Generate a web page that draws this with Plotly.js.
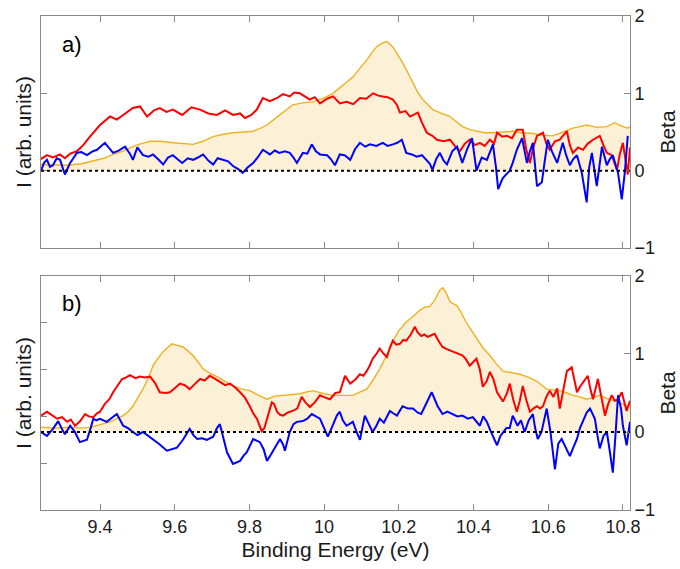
<!DOCTYPE html>
<html><head><meta charset="utf-8">
<script src="https://cdn.plot.ly/plotly-3.0.1.min.js"></script>
<style>html,body{margin:0;padding:0;background:#fff;}#chart{width:680px;height:569px;}</style>
</head><body><div id="chart"></div>
<script>
// Panel a) yellow (intensity), red and blue (beta) traces
const aYelX = [9.242,9.28,9.312,9.35,9.383,9.41,9.435,9.46,9.488,9.51,9.534,9.56,9.595,9.62,9.649,9.675,9.703,9.73,9.756,9.785,9.81,9.83,9.847,9.865,9.88,9.9,9.916,9.945,9.97,10.0,10.024,10.042,10.06,10.077,10.095,10.114,10.13,10.14,10.155,10.168,10.184,10.197,10.211,10.225,10.238,10.25,10.264,10.278,10.291,10.31,10.337,10.355,10.371,10.39,10.409,10.43,10.452,10.48,10.505,10.53,10.559,10.585,10.612,10.64,10.666,10.685,10.703,10.73,10.757,10.778,10.795,10.813,10.819];
const aYelY = [0.08,0.07,0.07,0.09,0.13,0.16,0.21,0.25,0.31,0.35,0.38,0.38,0.36,0.35,0.34,0.38,0.44,0.47,0.49,0.50,0.51,0.55,0.59,0.66,0.72,0.79,0.85,0.88,0.89,0.94,1.0,1.07,1.14,1.21,1.32,1.43,1.54,1.60,1.65,1.67,1.60,1.50,1.39,1.26,1.13,1.02,0.92,0.85,0.79,0.75,0.70,0.63,0.57,0.53,0.51,0.49,0.49,0.50,0.51,0.49,0.48,0.46,0.45,0.50,0.55,0.57,0.59,0.56,0.57,0.62,0.58,0.55,0.57];
const aRedX = [9.242,9.258,9.274,9.293,9.306,9.32,9.338,9.355,9.373,9.40,9.427,9.445,9.462,9.488,9.507,9.526,9.545,9.56,9.578,9.595,9.62,9.645,9.668,9.69,9.713,9.735,9.756,9.775,9.788,9.805,9.82,9.836,9.855,9.874,9.89,9.908,9.92,9.935,9.962,9.975,9.989,10.008,10.024,10.042,10.06,10.078,10.096,10.113,10.131,10.145,10.157,10.17,10.184,10.195,10.203,10.218,10.23,10.251,10.262,10.275,10.29,10.302,10.32,10.337,10.35,10.363,10.377,10.39,10.404,10.417,10.43,10.444,10.455,10.463,10.477,10.49,10.503,10.516,10.532,10.541,10.551,10.56,10.57,10.586,10.595,10.604,10.618,10.631,10.65,10.658,10.666,10.68,10.693,10.706,10.72,10.738,10.748,10.757,10.77,10.784,10.792,10.8,10.813,10.819];
const aRedY = [0.15,0.20,0.17,0.21,0.16,0.22,0.25,0.33,0.44,0.59,0.70,0.66,0.72,0.81,0.83,0.70,0.78,0.81,0.76,0.79,0.72,0.82,0.79,0.74,0.72,0.78,0.72,0.74,0.68,0.72,0.79,0.94,0.90,0.94,0.99,0.96,1.01,1.00,0.92,0.95,0.87,0.93,0.96,0.87,0.89,0.86,0.94,0.93,1.00,0.97,0.96,0.95,0.92,0.85,0.75,0.77,0.70,0.75,0.62,0.49,0.45,0.40,0.38,0.40,0.32,0.25,0.35,0.40,0.33,0.36,0.32,0.40,0.35,0.49,0.44,0.45,0.42,0.53,0.53,0.28,0.10,0.30,0.45,0.49,0.35,0.27,0.38,0.40,0.51,0.33,0.23,0.30,0.27,0.35,0.40,0.45,0.33,0.23,0.20,0.01,0.22,0.36,-0.05,0.30];
const aBluX = [9.242,9.25,9.258,9.266,9.274,9.284,9.293,9.306,9.32,9.338,9.35,9.365,9.38,9.392,9.413,9.425,9.435,9.45,9.467,9.48,9.488,9.50,9.515,9.53,9.542,9.555,9.569,9.582,9.595,9.607,9.62,9.635,9.649,9.662,9.676,9.69,9.703,9.715,9.73,9.743,9.756,9.77,9.782,9.795,9.81,9.822,9.836,9.845,9.855,9.868,9.88,9.895,9.908,9.918,9.927,9.943,9.955,9.967,9.978,9.989,10.008,10.018,10.029,10.042,10.055,10.07,10.083,10.096,10.11,10.123,10.14,10.157,10.17,10.184,10.196,10.208,10.22,10.235,10.248,10.262,10.275,10.283,10.29,10.30,10.31,10.32,10.329,10.343,10.356,10.37,10.383,10.396,10.408,10.422,10.436,10.446,10.452,10.46,10.466,10.478,10.488,10.497,10.505,10.516,10.53,10.543,10.551,10.559,10.57,10.583,10.59,10.599,10.61,10.624,10.639,10.648,10.658,10.667,10.677,10.69,10.703,10.71,10.717,10.73,10.744,10.757,10.765,10.773,10.787,10.797,10.805,10.813];
const aBluY = [0.00,0.10,0.14,0.05,0.07,0.16,0.14,-0.05,0.10,0.23,0.24,0.20,0.25,0.27,0.36,0.28,0.23,0.26,0.31,0.22,0.14,0.30,0.20,0.18,0.21,0.15,0.08,0.17,0.20,0.15,0.10,0.16,0.14,0.17,0.21,0.13,0.08,0.16,0.14,0.12,0.06,0.02,-0.03,0.04,0.10,0.17,0.27,0.24,0.21,0.26,0.23,0.25,0.23,0.17,0.10,0.23,0.22,0.34,0.25,0.21,0.20,0.15,0.07,0.21,0.20,0.14,0.28,0.36,0.31,0.34,0.32,0.36,0.32,0.34,0.36,0.40,0.23,0.21,0.18,0.20,0.14,0.09,0.01,0.15,0.23,0.13,0.08,0.25,0.31,0.10,0.28,0.42,0.00,0.17,0.14,0.25,0.34,0.05,-0.24,-0.10,-0.05,0.00,0.10,0.27,0.42,0.10,0.25,0.36,-0.20,-0.15,0.10,0.40,0.25,0.10,0.36,0.20,0.07,0.15,0.20,-0.03,-0.41,0.05,0.23,-0.20,0.31,0.07,0.15,0.20,-0.03,-0.37,-0.03,0.45];

// Panel b)
const bYelX = [9.242,9.28,9.312,9.35,9.373,9.40,9.427,9.445,9.462,9.475,9.488,9.50,9.515,9.53,9.542,9.556,9.569,9.58,9.593,9.607,9.622,9.635,9.649,9.662,9.676,9.695,9.713,9.735,9.756,9.78,9.801,9.825,9.847,9.868,9.89,9.91,9.935,9.95,9.97,10.0,10.024,10.042,10.077,10.095,10.114,10.13,10.149,10.167,10.184,10.2,10.22,10.238,10.256,10.27,10.283,10.295,10.302,10.31,10.318,10.327,10.337,10.355,10.365,10.38,10.395,10.408,10.425,10.444,10.46,10.479,10.5,10.524,10.548,10.57,10.583,10.596,10.615,10.631,10.65,10.666,10.685,10.703,10.72,10.738,10.756,10.773,10.79,10.81,10.819];
const bYelY = [0.06,0.05,0.06,0.05,0.06,0.09,0.13,0.17,0.21,0.26,0.33,0.43,0.55,0.70,0.85,0.95,1.03,1.08,1.13,1.11,1.09,1.04,0.98,0.90,0.81,0.75,0.71,0.65,0.59,0.55,0.53,0.47,0.42,0.46,0.47,0.48,0.49,0.51,0.53,0.49,0.47,0.47,0.47,0.51,0.55,0.66,0.81,0.98,1.16,1.30,1.41,1.48,1.56,1.60,1.61,1.68,1.75,1.82,1.85,1.78,1.67,1.62,1.55,1.41,1.30,1.20,1.08,0.98,0.88,0.78,0.76,0.74,0.70,0.65,0.60,0.55,0.54,0.53,0.50,0.47,0.45,0.42,0.44,0.47,0.43,0.40,0.38,0.33,0.35];
const bRedX = [9.242,9.258,9.27,9.285,9.298,9.312,9.322,9.333,9.347,9.36,9.37,9.382,9.392,9.40,9.413,9.425,9.435,9.447,9.459,9.47,9.48,9.495,9.507,9.52,9.534,9.547,9.56,9.575,9.587,9.60,9.614,9.627,9.64,9.655,9.668,9.68,9.694,9.708,9.721,9.735,9.748,9.762,9.775,9.788,9.801,9.81,9.82,9.833,9.84,9.847,9.86,9.866,9.874,9.882,9.89,9.903,9.916,9.928,9.94,9.95,9.962,9.975,9.989,10.003,10.016,10.03,10.042,10.056,10.07,10.083,10.096,10.105,10.114,10.122,10.13,10.14,10.149,10.158,10.168,10.176,10.184,10.193,10.203,10.212,10.22,10.232,10.243,10.25,10.26,10.268,10.277,10.287,10.296,10.305,10.317,10.33,10.344,10.357,10.371,10.38,10.39,10.4,10.408,10.417,10.425,10.435,10.444,10.453,10.463,10.471,10.479,10.49,10.497,10.506,10.516,10.524,10.532,10.542,10.551,10.56,10.57,10.578,10.586,10.595,10.604,10.614,10.624,10.631,10.64,10.65,10.663,10.67,10.677,10.685,10.693,10.706,10.713,10.72,10.733,10.742,10.752,10.76,10.77,10.778,10.787,10.797,10.805,10.81,10.819];
const bRedY = [0.21,0.26,0.22,0.17,0.19,0.13,0.16,0.08,0.14,0.23,0.20,0.19,0.24,0.26,0.36,0.42,0.51,0.60,0.68,0.70,0.73,0.69,0.71,0.70,0.71,0.63,0.51,0.50,0.51,0.56,0.62,0.60,0.55,0.62,0.68,0.66,0.72,0.68,0.64,0.60,0.62,0.57,0.51,0.44,0.33,0.24,0.17,0.01,0.05,0.17,0.38,0.36,0.26,0.22,0.21,0.25,0.27,0.30,0.45,0.38,0.32,0.38,0.47,0.44,0.42,0.50,0.51,0.72,0.62,0.67,0.74,0.72,0.78,0.85,0.94,1.00,1.07,1.01,0.96,1.08,1.17,1.12,1.13,1.18,1.17,1.25,1.35,1.28,1.23,1.25,1.22,1.24,1.26,1.18,1.09,1.06,1.03,1.00,0.98,0.93,0.85,0.90,0.94,0.80,0.58,0.65,0.77,0.68,0.51,0.45,0.39,0.50,0.62,0.42,0.26,0.40,0.59,0.40,0.26,0.30,0.33,0.30,0.33,0.45,0.53,0.45,0.56,0.30,0.55,0.78,0.83,0.65,0.51,0.58,0.64,0.72,0.55,0.42,0.68,0.45,0.21,0.35,0.47,0.40,0.42,0.51,0.35,0.27,0.40];
const bBluX = [9.242,9.258,9.274,9.288,9.297,9.306,9.32,9.333,9.346,9.355,9.365,9.375,9.382,9.39,9.40,9.418,9.43,9.445,9.462,9.475,9.488,9.5,9.515,9.53,9.542,9.56,9.579,9.592,9.606,9.622,9.64,9.65,9.66,9.673,9.686,9.703,9.713,9.721,9.73,9.74,9.756,9.765,9.775,9.785,9.793,9.81,9.828,9.838,9.847,9.856,9.863,9.872,9.882,9.89,9.895,9.908,9.918,9.927,9.943,9.955,9.967,9.978,9.989,10.0,10.01,10.02,10.034,10.042,10.05,10.06,10.077,10.087,10.096,10.109,10.12,10.13,10.14,10.149,10.16,10.176,10.185,10.195,10.21,10.225,10.238,10.25,10.26,10.275,10.288,10.304,10.317,10.33,10.344,10.357,10.37,10.385,10.398,10.408,10.417,10.426,10.436,10.445,10.455,10.463,10.472,10.479,10.488,10.497,10.505,10.518,10.527,10.537,10.548,10.559,10.565,10.572,10.582,10.596,10.606,10.618,10.627,10.636,10.648,10.658,10.667,10.677,10.685,10.693,10.703,10.712,10.725,10.732,10.738,10.748,10.757,10.765,10.773,10.78,10.787,10.795,10.8,10.81,10.819];
const bBluY = [0.0,-0.05,0.04,0.14,0.05,-0.03,0.08,0.0,-0.13,-0.12,-0.10,0.05,0.17,0.15,0.17,0.13,0.18,0.23,0.08,0.05,0.0,-0.04,0.0,-0.05,-0.09,-0.16,-0.24,-0.22,-0.20,-0.10,0.04,-0.04,-0.09,-0.08,-0.10,-0.06,0.05,0.10,-0.08,-0.26,-0.41,-0.39,-0.37,-0.30,-0.26,-0.09,-0.13,-0.22,-0.37,-0.30,-0.24,-0.18,-0.09,-0.16,-0.24,0.0,0.10,0.13,0.14,0.17,0.23,0.20,0.17,0.05,-0.06,0.05,0.21,0.26,0.15,0.08,0.13,0.0,-0.10,0.21,0.10,0.0,0.08,0.17,0.12,0.27,0.24,0.21,0.33,0.30,0.30,0.25,0.23,0.38,0.51,0.33,0.23,0.26,0.23,0.20,0.21,0.17,0.19,0.13,0.08,0.20,0.13,0.02,-0.08,-0.17,-0.05,0.0,0.05,0.05,0.21,0.08,0.15,0.0,0.15,0.23,0.05,-0.09,0.0,0.30,0.0,-0.48,-0.15,-0.09,-0.20,-0.31,-0.20,-0.09,0.05,0.13,0.25,0.30,0.17,-0.05,-0.21,-0.05,0.0,-0.25,-0.52,-0.05,0.47,0.30,0.08,-0.17,0.13];

const xTicks = [9.4,9.6,9.8,10,10.2,10.4,10.6,10.8];
const xTickText = ['9.4','9.6','9.8','10','10.2','10.4','10.6','10.8'];
const betaTicks = [-1,0,1,2];

const YEL = '#EDB120', RED = '#FF0000', BLU = '#0000FF';
const FILL = 'rgba(237,177,32,0.18)';
const FONT = 'Liberation Sans, Arial, sans-serif';
const AX = '#8a8a8a';

function yel(x, y, ya, xa){ return {x:x, y:y, xaxis:xa, yaxis:ya, type:'scatter', mode:'lines', fill:'tozeroy', fillcolor:FILL, line:{color:YEL, width:1.4}, hoverinfo:'skip'}; }
function ln(x, y, ya, xa, c){ return {x:x, y:y, xaxis:xa, yaxis:ya, type:'scatter', mode:'lines', line:{color:c, width:2}, hoverinfo:'skip'}; }
// empty traces so the left (intensity) axes get drawn
function axisOnly(ya, xa){ return {x:[], y:[], xaxis:xa, yaxis:ya, type:'scatter', mode:'lines', hoverinfo:'skip'}; }

const data = [
  axisOnly('y2', 'x2'), axisOnly('y4', 'x'),
  yel(aYelX, aYelY, 'y', 'x2'), ln(aRedX, aRedY, 'y', 'x2', RED), ln(aBluX, aBluY, 'y', 'x2', BLU),
  yel(bYelX, bYelY, 'y3', 'x'), ln(bRedX, bRedY, 'y3', 'x', RED), ln(bBluX, bBluY, 'y3', 'x', BLU)
];

const xCommon = {range:[9.242,10.819], tickvals:xTicks, ticktext:xTickText, ticks:'inside', ticklen:6, tickcolor:AX,
  showline:true, linecolor:AX, linewidth:1, mirror:'ticks', showgrid:false, zeroline:false,
  tickfont:{family:FONT, size:18, color:'#1a1a1a'}};
const betaCommon = {range:[-1,2], tickvals:betaTicks, ticks:'inside', ticklen:6, tickcolor:AX, side:'right',
  showline:true, linecolor:AX, linewidth:1, showgrid:false, zeroline:false,
  tickfont:{family:FONT, size:18, color:'#1a1a1a'},
  title:{text:'Beta', font:{family:FONT, size:21, color:'#1a1a1a'}, standoff:6}};
const leftCommon = {ticks:'inside', ticklen:6, tickcolor:AX, side:'left', showline:true, linecolor:AX, linewidth:1,
  showgrid:false, zeroline:false, showticklabels:false,
  title:{text:'I (arb. units)', font:{family:FONT, size:21, color:'#1a1a1a'}, standoff:2}};

const layout = {
  width:680, height:569, showlegend:false,
  margin:{l:41, r:50, t:16, b:59},
  paper_bgcolor:'#fff', plot_bgcolor:'#fff',
  font:{family:FONT, color:'#1a1a1a'},
  xaxis: Object.assign({}, xCommon, {anchor:'y3', domain:[0,1],
    title:{text:'Binding Energy (eV)', font:{family:FONT, size:21, color:'#1a1a1a'}, standoff:6}}),
  xaxis2: Object.assign({}, xCommon, {anchor:'y', matches:'x', showticklabels:false}),
  yaxis: Object.assign({}, betaCommon, {domain:[0.5304,1], anchor:'x2'}),
  yaxis2: Object.assign({}, leftCommon, {overlaying:'y', anchor:'x2', range:[-1,2], tickvals:[-1,0,1,2]}),
  yaxis3: Object.assign({}, betaCommon, {domain:[0,0.4737], anchor:'x'}),
  yaxis4: Object.assign({}, leftCommon, {overlaying:'y3', anchor:'x', range:[-1,4], tickvals:[-1,0,1,2,3,4]}),
  shapes:[
    {type:'line', xref:'paper', x0:0, x1:1, yref:'y', y0:0, y1:0, layer:'above', line:{color:'#000', width:2, dash:'dot'}},
    {type:'line', xref:'paper', x0:0, x1:1, yref:'y3', y0:0, y1:0, layer:'above', line:{color:'#000', width:2, dash:'dot'}}
  ],
  annotations:[
    {text:'a)', xref:'paper', yref:'paper', x:0.032, y:0.943, xanchor:'left', yanchor:'middle', showarrow:false, font:{family:FONT, size:22, color:'#000'}},
    {text:'b)', xref:'paper', yref:'paper', x:0.032, y:0.419, xanchor:'left', yanchor:'middle', showarrow:false, font:{family:FONT, size:22, color:'#000'}}
  ]
};

Plotly.newPlot('chart', data, layout, {displayModeBar:false, staticPlot:true});
</script>
</body></html>
